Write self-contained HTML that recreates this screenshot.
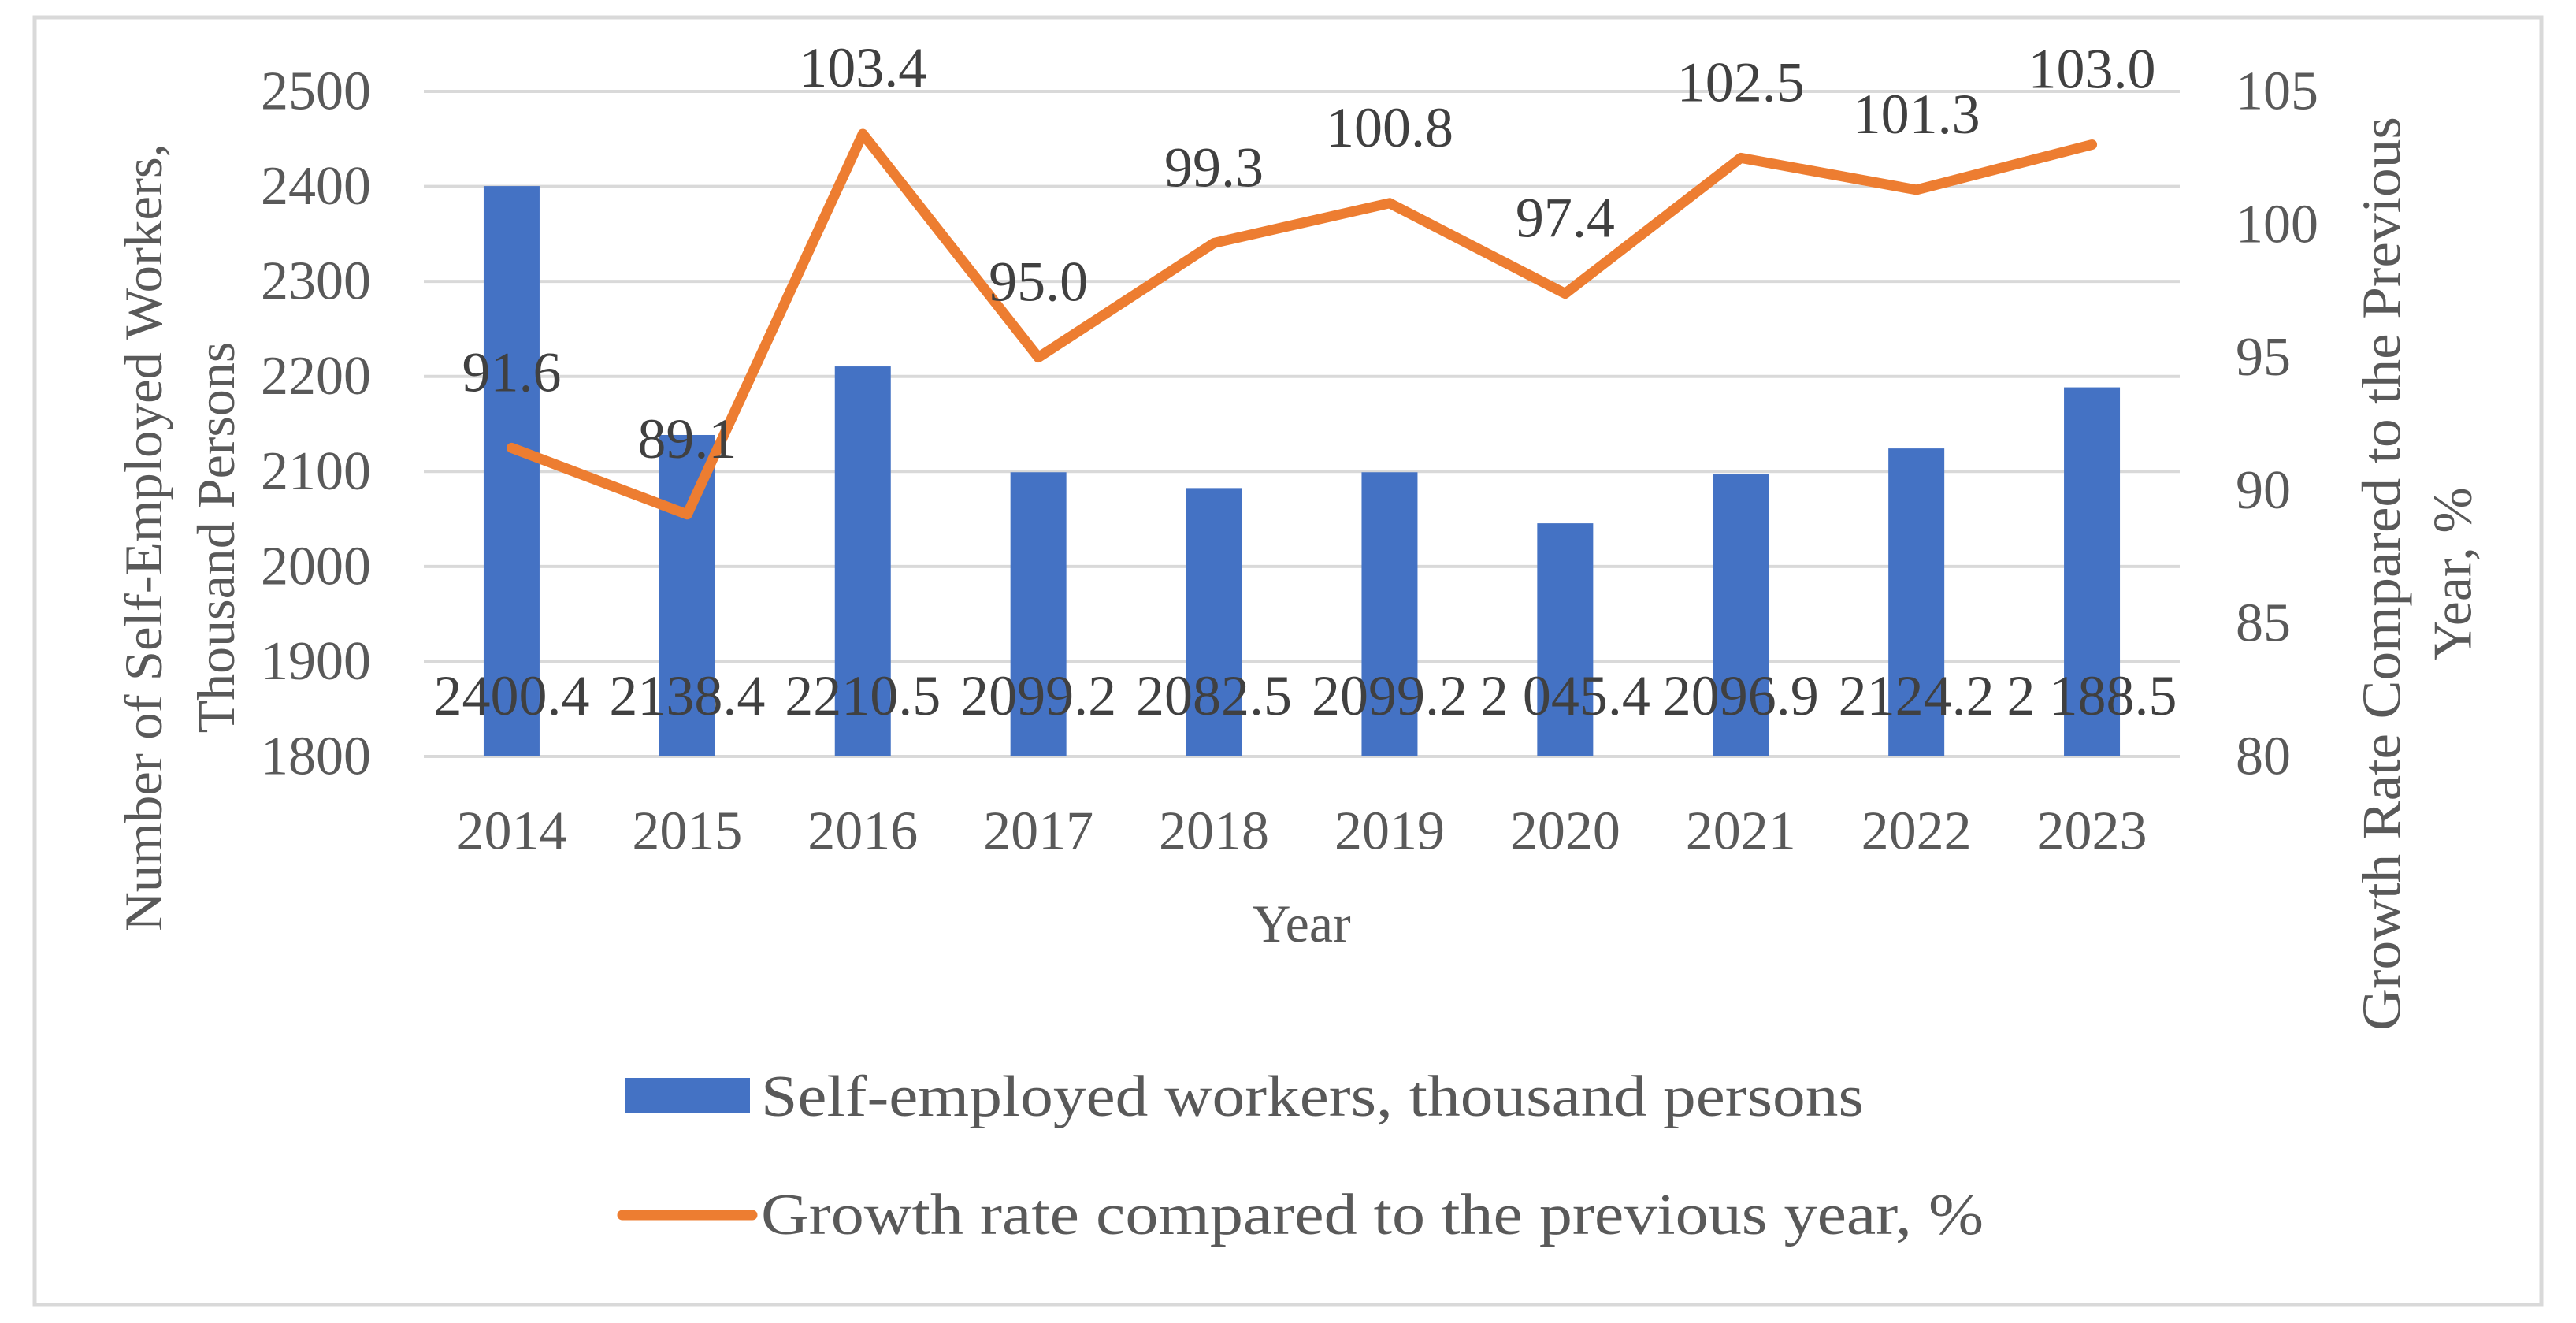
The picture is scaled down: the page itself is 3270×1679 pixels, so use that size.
<!DOCTYPE html>
<html><head><meta charset="utf-8">
<style>
html,body{margin:0;padding:0;background:#fff;}
svg{display:block;font-family:"Liberation Serif",serif;}
</style></head>
<body>
<svg id="chart" width="3270" height="1679" viewBox="0 0 3270 1679">
<rect x="44" y="22" width="3182" height="1634" fill="#fff" stroke="#d9d9d9" stroke-width="5"/>
<g id="grid"></g>
<g id="bars"></g>
<g id="line"></g>
<g id="labels"></g>
<g id="axes"></g>
<text x="182" y="682" transform="rotate(-90 182 682)" text-anchor="middle" dominant-baseline="central" font-size="68" fill="#595959" textLength="1000" lengthAdjust="spacingAndGlyphs">Number of Self-Employed Workers,</text>
<text x="274" y="682" transform="rotate(-90 274 682)" text-anchor="middle" dominant-baseline="central" font-size="68" fill="#595959">Thousand Persons</text>
<text x="3024" y="728" transform="rotate(-90 3024 728)" text-anchor="middle" dominant-baseline="central" font-size="70" fill="#595959" textLength="1160" lengthAdjust="spacingAndGlyphs">Growth Rate Compared to the Previous</text>
<text x="3114" y="728" transform="rotate(-90 3114 728)" text-anchor="middle" dominant-baseline="central" font-size="70" fill="#595959">Year, %</text>
<text x="1652" y="1172" text-anchor="middle" dominant-baseline="central" font-size="68" fill="#595959">Year</text>
<g>
<rect x="793" y="1368" width="159" height="45" fill="#4472c4"/>
<text x="966" y="1392" dominant-baseline="central" font-size="74" fill="#595959" textLength="1400" lengthAdjust="spacingAndGlyphs">Self-employed workers, thousand persons</text>
<line x1="790" y1="1542" x2="955" y2="1542" stroke="#ed7d31" stroke-width="13" stroke-linecap="round"/>
<text x="966" y="1542" dominant-baseline="central" font-size="74" fill="#595959" textLength="1552" lengthAdjust="spacingAndGlyphs">Growth rate compared to the previous year, %</text>
</g>
</svg>
<script>
const categories = ["2014","2015","2016","2017","2018","2019","2020","2021","2022","2023"];
const barValues = [2400.4,2138.4,2210.5,2099.2,2082.5,2099.2,2045.4,2096.9,2124.2,2188.5];
const barLabels = ["2400.4","2138.4","2210.5","2099.2","2082.5","2099.2","2 045.4","2096.9","2124.2","2 188.5"];
const lineValues = [91.6,89.1,103.4,95.0,99.3,100.8,97.4,102.5,101.3,103.0];
const lineLabels = ["91.6","89.1","103.4","95.0","99.3","100.8","97.4","102.5","101.3","103.0"];
const leftTicks = [1800,1900,2000,2100,2200,2300,2400,2500];
const rightTicks = [80,85,90,95,100,105];

const NS="http://www.w3.org/2000/svg";
const PL=538, PR=2767, PT=116, PB=960;
const step=(PR-PL)/categories.length;
const xC=i=>PL+step*(i+0.5);
const yL=v=>PB-(v-1800)/(2500-1800)*(PB-PT);
const yR=v=>PB-(v-80)/(105-80)*(PB-PT);
function mk(tag,attrs,parent){const e=document.createElementNS(NS,tag);for(const k in attrs)e.setAttribute(k,attrs[k]);document.getElementById(parent).appendChild(e);return e;}

leftTicks.forEach(t=>{
  const g=mk('line',{x1:PL,x2:PR,y1:yL(t),y2:yL(t),stroke:'#d9d9d9','stroke-width':4},'grid');
  
  
  const l=mk('text',{x:471,y:yL(t),'text-anchor':'end','dominant-baseline':'central','font-size':70,fill:'#595959'},'axes');
  l.textContent=t;
  
  
});
rightTicks.forEach(t=>{
  const l=mk('text',{x:2838,y:yR(t),'text-anchor':'start','dominant-baseline':'central','font-size':70,fill:'#595959'},'axes');
  l.textContent=t;
  
  
});
categories.forEach((c,i)=>{
  const l=mk('text',{x:xC(i),y:1055,'text-anchor':'middle','dominant-baseline':'central','font-size':70,fill:'#595959'},'axes');
  l.textContent=c;
  
  
});
const bw=71;
barValues.forEach((v,i)=>{
  const b=mk('rect',{x:xC(i)-bw/2,y:yL(v),width:bw,height:PB-yL(v),fill:'#4472c4'},'bars');
  
  
});
let pts=lineValues.map((v,i)=>xC(i)+','+yR(v)).join(' ');
const pl=mk('polyline',{points:pts,fill:'none',stroke:'#ed7d31','stroke-width':13,'stroke-linejoin':'round','stroke-linecap':'round'},'line');


barLabels.forEach((s,i)=>{
  const l=mk('text',{x:xC(i),y:883,'text-anchor':'middle','dominant-baseline':'central','font-size':72,fill:'#404040'},'labels');
  l.textContent=s;
  
  
});
lineLabels.forEach((s,i)=>{
  const y=Math.max(86,yR(lineValues[i])-96);
  const l=mk('text',{x:xC(i),y:y,'text-anchor':'middle','dominant-baseline':'central','font-size':72,fill:'#404040'},'labels');
  l.textContent=s;
  
  
});
</script>
</body></html>
